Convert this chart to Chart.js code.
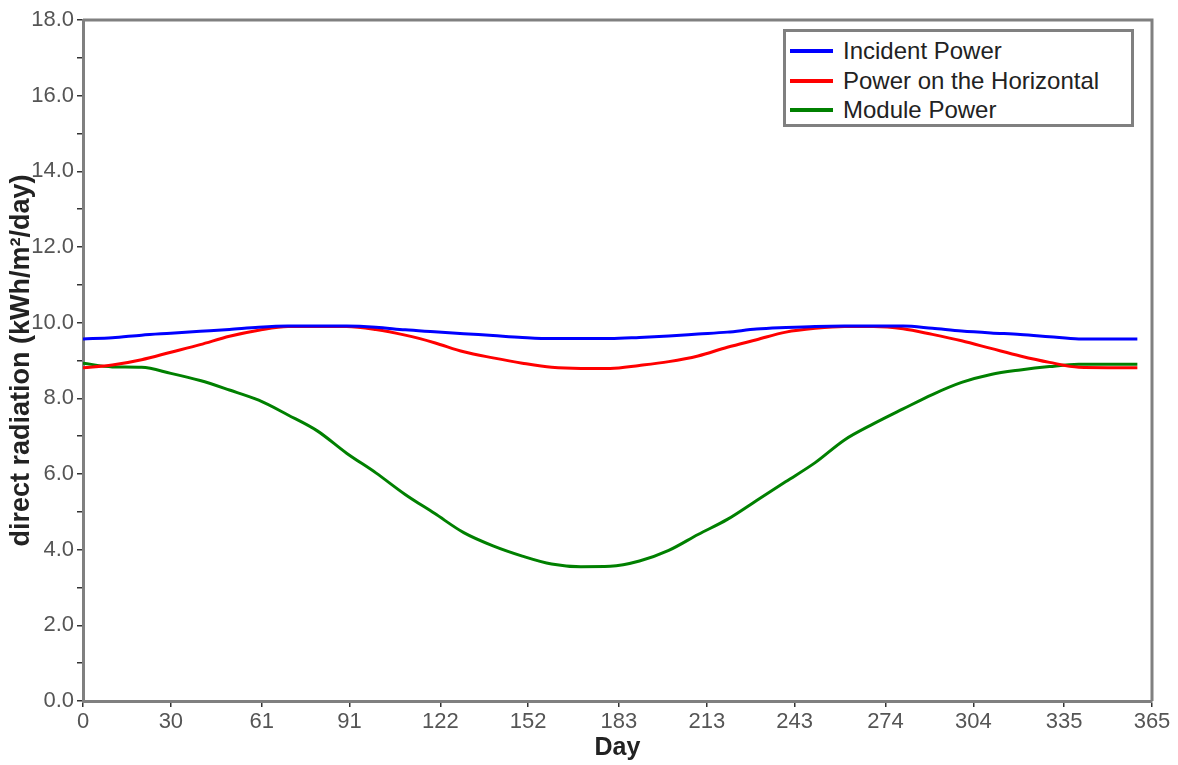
<!DOCTYPE html>
<html>
<head>
<meta charset="utf-8">
<script src="https://cdn.jsdelivr.net/npm/chart.js@4.4.1/dist/chart.umd.min.js"></script>
<style>
  html, body { margin: 0; padding: 0; background: #fff; }
  #wrap { position: relative; width: 1178px; height: 765px; }
  #legend { position: absolute; left: 783px; top: 29px; width: 345px; height: 92px;
            border: 3px solid #808080; background: #fff; font-family: "Liberation Sans", Arial, sans-serif;
            font-size: 24px; color: #222; }
  .item { position: absolute; left: 0; height: 30px; line-height: 30px; white-space: nowrap; }
  .swatch { position: absolute; left: 4px; top: 13px; width: 43px; height: 4px; }
  .lbl { position: absolute; left: 57px; top: 0; }
</style>
</head>
<body>
<div id="wrap">
  <canvas id="c" width="1178" height="765"></canvas>
  <div id="legend"></div>
</div>
<script>
// ---- data ----
const days = [0,10,20,30,40,50,60,70,80,90,100,110,120,130,140,150,160,170,180,190,200,210,220,230,240,250,260,270,280,290,300,310,320,330,340,350,360];
const incidentPower = [9.57,9.60,9.67,9.72,9.77,9.82,9.88,9.91,9.91,9.91,9.88,9.81,9.76,9.71,9.66,9.61,9.58,9.58,9.58,9.61,9.65,9.70,9.75,9.83,9.87,9.90,9.91,9.91,9.91,9.85,9.78,9.73,9.69,9.63,9.57,9.57,9.57];
const horizontalPower = [8.81,8.88,9.02,9.22,9.42,9.64,9.80,9.90,9.90,9.90,9.82,9.67,9.47,9.23,9.07,8.93,8.82,8.79,8.79,8.87,8.97,9.12,9.35,9.55,9.75,9.85,9.90,9.90,9.84,9.69,9.52,9.32,9.12,8.95,8.82,8.81,8.81];
const modulePower = [8.93,8.83,8.82,8.66,8.47,8.22,7.95,7.56,7.14,6.55,6.03,5.46,4.96,4.45,4.10,3.83,3.62,3.55,3.56,3.70,3.98,4.40,4.80,5.30,5.80,6.30,6.90,7.33,7.72,8.10,8.42,8.63,8.75,8.84,8.90,8.90,8.90];
const seriesNames = ["Incident Power", "Power on the Horizontal", "Module Power"];
const xTickValues = [0,30,61,91,122,152,183,213,243,274,304,335,365];
const yTickValues = [0,1,2,3,4,5,6,7,8,9,10,11,12,13,14,15,16,17,18];
const xTitle = "Day";
const yTitle = "direct radiation (kWh/m\u00b2/day)";

const colors = ["#0000ff", "#ff0000", "#008000"];
const seriesValues = [incidentPower, horizontalPower, modulePower];

const datasets = seriesValues.map((vals, i) => ({
  label: seriesNames[i],
  data: days.map((d, j) => ({ x: d, y: vals[j] })),
  borderColor: colors[i],
  backgroundColor: colors[i],
  borderWidth: 3,
  pointRadius: 0,
  tension: 0.4,
  cubicInterpolationMode: 'monotone',
  fill: false
}));

const framePlugin = {
  id: 'frame',
  afterDraw(chart) {
    const { ctx, chartArea: a } = chart;
    ctx.save();
    ctx.strokeStyle = '#808080';
    ctx.lineWidth = 3;
    ctx.beginPath();
    ctx.moveTo(a.left, a.top);
    ctx.lineTo(a.right, a.top);
    ctx.lineTo(a.right, a.bottom);
    ctx.stroke();
    ctx.restore();
  }
};

const tickFont = { family: '"Liberation Sans", Arial, sans-serif', size: 22 };

new Chart(document.getElementById('c'), {
  type: 'line',
  data: { datasets },
  plugins: [framePlugin],
  options: {
    responsive: false,
    animation: false,
    layout: { padding: { left: 0, top: 20, right: 26, bottom: 0 } },
    plugins: { legend: { display: false }, tooltip: { enabled: false } },
    scales: {
      x: {
        type: 'linear', min: 0, max: 365,
        afterBuildTicks: s => { s.ticks = xTickValues.map(v => ({ value: v })); },
        afterFit: s => { s.height = 64; },
        ticks: { autoSkip: false, maxRotation: 0, color: '#555', font: tickFont, padding: 2,
                 callback: v => String(v) },
        grid: { drawOnChartArea: false, drawTicks: true, tickLength: 6, color: '#333', lineWidth: 1.5 },
        border: { display: true, color: '#808080', width: 3 },
        title: { display: true, text: xTitle, color: '#222', padding: { top: 0, bottom: 2 },
                 font: { family: '"Liberation Sans", Arial, sans-serif', size: 25, weight: 'bold' } }
      },
      y: {
        type: 'linear', min: 0, max: 18,
        afterBuildTicks: s => { s.ticks = yTickValues.map(v => ({ value: v })); },
        afterFit: s => { s.width = 83; },
        ticks: { autoSkip: false, color: '#555', font: tickFont, padding: 3,
                 callback: v => (v % 2 === 0 ? v.toFixed(1) : '') },
        grid: { drawOnChartArea: false, drawTicks: true, tickLength: 6, color: '#333', lineWidth: 1.5 },
        border: { display: true, color: '#808080', width: 3 },
        title: { display: true, text: yTitle, color: '#222', padding: { top: 5, bottom: 0 },
                 font: { family: '"Liberation Sans", Arial, sans-serif', size: 27, weight: 'bold' } }
      }
    }
  }
});

// HTML legend built from datasets
const legend = document.getElementById('legend');
datasets.forEach((ds, i) => {
  const item = document.createElement('div');
  item.className = 'item';
  item.style.top = (4 + i * 29.5) + 'px';
  const sw = document.createElement('div');
  sw.className = 'swatch';
  sw.style.background = ds.borderColor;
  const lb = document.createElement('span');
  lb.className = 'lbl';
  lb.textContent = ds.label;
  item.appendChild(sw);
  item.appendChild(lb);
  legend.appendChild(item);
});
</script>
</body>
</html>
